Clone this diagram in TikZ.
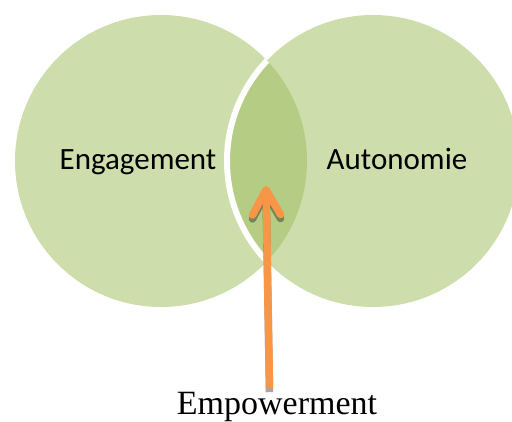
\documentclass[tikz,border=0pt]{standalone}
\usepackage{fontspec}
\newfontfamily\labelfont{Carlito}
\newfontfamily\captionfont{Liberation Serif}
\usetikzlibrary{arrows.meta,positioning}
\definecolor{setgreen}{RGB}{206,221,172}
\definecolor{lensgreen}{RGB}{181,204,133}
\definecolor{arroworange}{RGB}{247,150,70}

\begin{document}
\begin{tikzpicture}
[x=1pt,y=-1pt,>={Straight Barb[length=25pt,width=28pt,round]},
 set/.style={circle,fill=setgreen,minimum size=292pt,inner sep=0pt},
 setlabel/.style={font=\labelfont\fontsize{31}{31}\selectfont,anchor=base,inner sep=0pt},
 pointer/.style={draw=arroworange,line width=7.5pt},
 pointershadow/.style={draw=black,opacity=0.35,line width=7.5pt,transform canvas={yshift=-4pt}}]
  \useasboundingbox (0,0) rectangle (512,422);
%
  \node[set] (eng) at (161,161) {};
  \node[set] (aut) at (373,161) {};
  \begin{scope}
    \clip (eng.center) circle [radius=146pt];
    \fill[lensgreen] (aut.center) circle [radius=146pt];
    \draw[white,line width=6pt] (aut.center) circle [radius=146pt];
  \end{scope}
%
  \node[setlabel] (englabel) at (138,170) {Engagement};
  \node[setlabel] (autlabel) at (397,170) {Autonomie};
%
  \node[font=\captionfont\fontsize{34}{34}\selectfont,anchor=base] (emp) at (277,414) {Empowerment};
  \coordinate (tip) at (266,186);
  \draw[->,pointershadow] ([xshift=-7.5pt]emp.north) -- (tip);
  \draw[->,pointer] ([xshift=-7.5pt]emp.north) -- (tip);
\end{tikzpicture}
\end{document}
